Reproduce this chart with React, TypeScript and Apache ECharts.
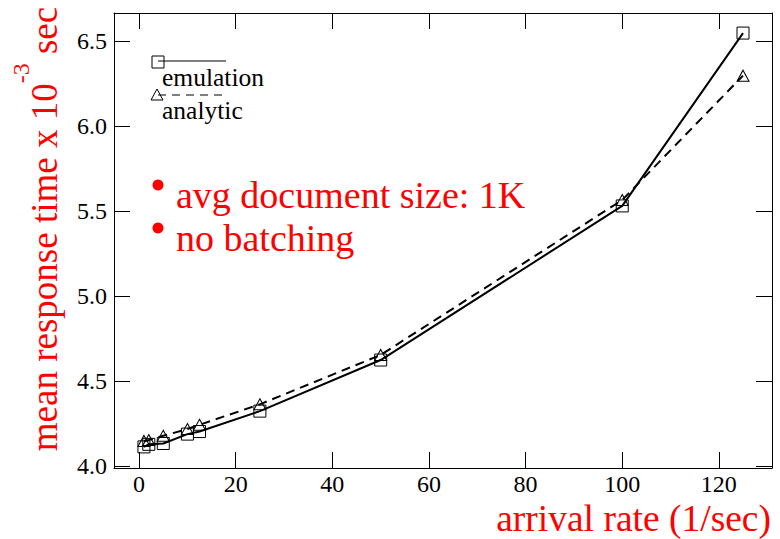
import React, { useEffect, useRef } from 'react';
import * as echarts from 'echarts';

// Arrival rate (requests per second) at which each run was measured
const arrivalRates = [1, 2, 5, 10, 12.5, 25, 50, 100, 125];
// Mean response time (x 10^-3 sec)
const emulationTimes = [4.115, 4.13, 4.135, 4.19, 4.205, 4.325, 4.625, 5.53, 6.545];
const analyticTimes = [4.15, 4.155, 4.18, 4.22, 4.245, 4.365, 4.655, 5.565, 6.295];

const xTicks = [0, 20, 40, 60, 80, 100, 120];
const yTicks = [4.0, 4.5, 5.0, 5.5, 6.0, 6.5];

const seriesNames = ['emulation', 'analytic'];
const notes = ['avg document size: 1K', 'no batching'];
const xTitle = 'arrival rate (1/sec)';
const yTitleMain = 'mean response time x 10';
const yTitleExp = '-3';
const yTitleUnit = ' sec';

const SERIF = 'Liberation Serif, Times New Roman, serif';
const RED = '#ff0000';
const SQUARE = 'path://M0 0H10V10H0Z';
const TRIANGLE = 'path://M5 0L10 10H0Z';

const pairs = (ys: number[]) => arrivalRates.map((x, i) => [x, ys[i]]);

export default function App() {
  const ref = useRef<HTMLDivElement>(null);

  useEffect(() => {
    if (!ref.current) return;
    const chart = echarts.init(ref.current, undefined, { renderer: 'svg' });

    const frameAxis = {
      type: 'value' as const,
      axisLine: { show: true, onZero: false, lineStyle: { color: '#000', width: 1 } },
      splitLine: { show: false },
    };

    chart.setOption({
      animation: false,
      backgroundColor: '#fff',
      grid: { left: 114, right: 8, top: 13, bottom: 71, outerBoundsMode: 'none' },
      xAxis: [
        {
          ...frameAxis,
          position: 'bottom',
          min: -5.2,
          max: 131,
          axisTick: { show: true, inside: true, length: 16, customValues: xTicks, lineStyle: { color: '#000' } },
          axisLabel: {
            customValues: xTicks, fontFamily: SERIF, fontSize: 24, lineHeight: 22, color: '#000', margin: 5,
          },
        },
        {
          ...frameAxis,
          position: 'top',
          min: -5.2,
          max: 131,
          axisTick: { show: true, inside: true, length: 16, customValues: xTicks, lineStyle: { color: '#000' } },
          axisLabel: { show: false },
        },
      ],
      yAxis: [
        {
          ...frameAxis,
          position: 'left',
          min: 3.991,
          max: 6.663,
          axisTick: { show: true, inside: true, length: 16, customValues: yTicks, lineStyle: { color: '#000' } },
          axisLabel: {
            customValues: yTicks,
            fontFamily: SERIF,
            fontSize: 24,
            color: '#000',
            margin: 7,
            formatter: (v: number) => v.toFixed(1),
          },
        },
        {
          ...frameAxis,
          position: 'right',
          min: 3.991,
          max: 6.663,
          axisTick: { show: true, inside: true, length: 16, customValues: yTicks, lineStyle: { color: '#000' } },
          axisLabel: { show: false },
        },
      ],
      series: [
        {
          name: seriesNames[0],
          type: 'line',
          data: pairs(emulationTimes),
          symbol: SQUARE,
          symbolSize: 12,
          lineStyle: { color: '#000', width: 2 },
          itemStyle: { color: 'rgba(0,0,0,0)', borderColor: '#000', borderWidth: 1 },
          z: 3,
        },
        {
          name: seriesNames[1],
          type: 'line',
          data: pairs(analyticTimes),
          symbol: TRIANGLE,
          symbolSize: [12, 11],
          lineStyle: { color: '#000', width: 2, type: [9, 6] },
          itemStyle: { color: 'rgba(0,0,0,0)', borderColor: '#000', borderWidth: 1 },
          z: 3,
        },
      ],
      graphic: [
        // legend: emulation
        { type: 'line', shape: { x1: 158, y1: 61, x2: 226, y2: 61 }, style: { stroke: '#000', lineWidth: 1 } },
        { type: 'rect', shape: { x: 152, y: 56, width: 12, height: 12 }, style: { fill: 'none', stroke: '#000', lineWidth: 1 } },
        {
          type: 'text', x: 162, y: 77,
          style: { text: seriesNames[0], fontFamily: SERIF, fontSize: 25.5, fill: '#000', verticalAlign: 'middle' },
        },
        // legend: analytic
        {
          type: 'line', shape: { x1: 158, y1: 95, x2: 222, y2: 95 },
          style: { stroke: '#000', lineWidth: 1, lineDash: [8, 6] },
        },
        {
          type: 'polygon', shape: { points: [[157, 89], [163, 100], [151, 100]] },
          style: { fill: 'none', stroke: '#000', lineWidth: 1 },
        },
        {
          type: 'text', x: 162, y: 110,
          style: { text: seriesNames[1], fontFamily: SERIF, fontSize: 25.5, fill: '#000', verticalAlign: 'middle' },
        },
        // notes
        { type: 'circle', shape: { cx: 158, cy: 185, r: 5.5 }, style: { fill: RED } },
        {
          type: 'text', x: 176, y: 195,
          style: { text: notes[0], fontFamily: SERIF, fontSize: 38, lineHeight: 38, fill: RED, verticalAlign: 'middle' },
        },
        { type: 'circle', shape: { cx: 158, cy: 228, r: 5.5 }, style: { fill: RED } },
        {
          type: 'text', x: 176, y: 238,
          style: { text: notes[1], fontFamily: SERIF, fontSize: 38, lineHeight: 38, fill: RED, verticalAlign: 'middle' },
        },
        // axis titles
        {
          type: 'text', x: 771, y: 518,
          style: {
            text: xTitle, fontFamily: SERIF, fontSize: 37.5, lineHeight: 32, fill: RED,
            align: 'right', verticalAlign: 'middle',
          },
        },
        {
          type: 'text', x: 36, y: 229, rotation: Math.PI / 2,
          style: {
            text: `{a|${yTitleMain}}{s|${yTitleExp}}{a|${yTitleUnit}}`,
            align: 'center',
            verticalAlign: 'middle',
            rich: {
              a: { fontFamily: SERIF, fontSize: 37, lineHeight: 54, verticalAlign: 'bottom', fill: RED },
              s: { fontFamily: SERIF, fontSize: 24, lineHeight: 20, verticalAlign: 'top', fill: RED },
            },
          },
        },
      ],
    });

    return () => chart.dispose();
  }, []);

  return <div ref={ref} style={{ position: 'absolute', left: 0, top: 0, width: 780, height: 539 }} />;
}
